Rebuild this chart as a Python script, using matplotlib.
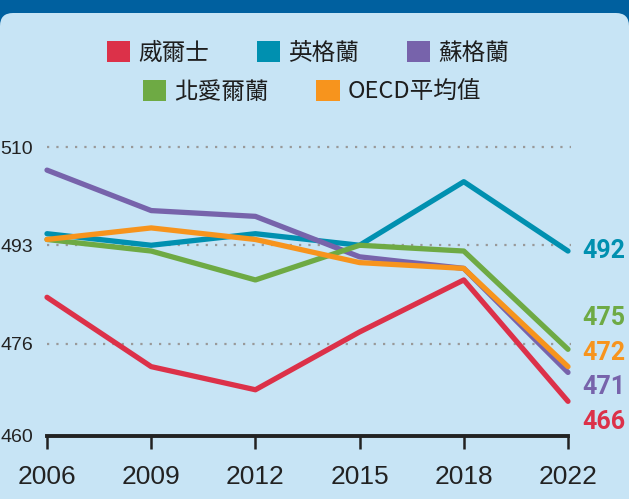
import matplotlib
matplotlib.use("Agg")
import matplotlib.pyplot as plt
from matplotlib.patches import Patch, FancyBboxPatch
from matplotlib.transforms import IdentityTransform

years = ["2006", "2009", "2012", "2015", "2018", "2022"]
names = ["威爾士", "英格蘭", "蘇格蘭", "北愛爾蘭", "OECD平均值"]
wales = [484, 472, 468, 478, 487, 466]
england = [495, 493, 495, 493, 504, 492]
scotland = [506, 499, 498, 491, 489, 471]
n_ireland = [494, 492, 487, 493, 492, 475]
oecd = [494, 496, 494, 490, 489, 472]
yticks = [460, 476, 493, 510]

series = [wales, england, scotland, n_ireland, oecd]
colors = ["#dc3149", "#0090b0", "#7763ab", "#6eaa44", "#f7941d"]
# baseline shift (pixels) of the end labels so they don't overlap
label_shift = [-28, -7, -22, 24, 7]

bg = "#c7e4f5"
band = "#00609f"
cjk = ["Noto Sans CJK TC", "DejaVu Sans"]

W, H = 629, 499
fig = plt.figure(figsize=(W / 100, H / 100), dpi=100)
fig.patch.set_facecolor(band)
panel = FancyBboxPatch((0, -40), W, H - 13 + 40, boxstyle="round,pad=0,rounding_size=13",
                       transform=IdentityTransform(), facecolor=bg, edgecolor="none", zorder=-5)
fig.patches.append(panel)

ax = fig.add_axes([47 / W, (H - 436) / H, (568 - 47) / W, (436 - 147) / H])
ax.set_facecolor("none")
ax.set_zorder(2)
x = list(range(len(years)))

for v in yticks[1:]:
    ax.plot([x[0], x[-1] + 0.03], [v, v], color="#999999", lw=1.6, ls=(0, (1, 3.2)),
            zorder=1, clip_on=False)

for i, (vals, c) in enumerate(zip(series, colors)):
    ax.plot(x, vals, color=c, lw=3.8, solid_capstyle="round", solid_joinstyle="round",
            zorder=3 + i, clip_on=False)
    ax.annotate(str(vals[-1]), (x[-1], vals[-1]), xytext=(14, label_shift[i]),
                textcoords="offset pixels", color=c, fontsize=18, fontweight="bold",
                family=["Roboto", "DejaVu Sans"], va="baseline", ha="left",
                annotation_clip=False)

ax.set_xlim(0, 5)
ax.set_ylim(460, 510)
ax.set_xticks(x)
ax.set_xticklabels(years, fontsize=19, family=["Liberation Sans", "DejaVu Sans"], color="#222222")
ax.set_yticks(yticks)
ax.set_yticklabels([str(v) for v in yticks], fontsize=14,
                   family=["Liberation Sans", "DejaVu Sans"], color="#222222")
ax.tick_params(axis="y", length=0, pad=10)
ax.tick_params(axis="x", length=9, width=1.8, color="#222222", pad=12)
for s in ["top", "right", "left"]:
    ax.spines[s].set_visible(False)
ax.spines["bottom"].set_linewidth(2.8)
ax.spines["bottom"].set_color("#222222")

handles = [Patch(facecolor=c, edgecolor="none") for c in colors]
leg_kw = dict(frameon=False, loc="center", handlelength=1.0, handleheight=1.0,
              handletextpad=0.35, columnspacing=2.0,
              prop={"family": cjk, "size": 17})
leg1 = fig.legend(handles[:3], names[:3], ncol=3, bbox_to_anchor=(308 / W, 1 - 53 / H), **leg_kw)
leg2 = fig.legend(handles[3:], names[3:], ncol=2, bbox_to_anchor=(312 / W, 1 - 92 / H), **leg_kw)
for leg in (leg1, leg2):
    for t in leg.get_texts():
        t.set_color("#1e1e1e")

fig.savefig("out.png", dpi=100, facecolor=fig.get_facecolor())
